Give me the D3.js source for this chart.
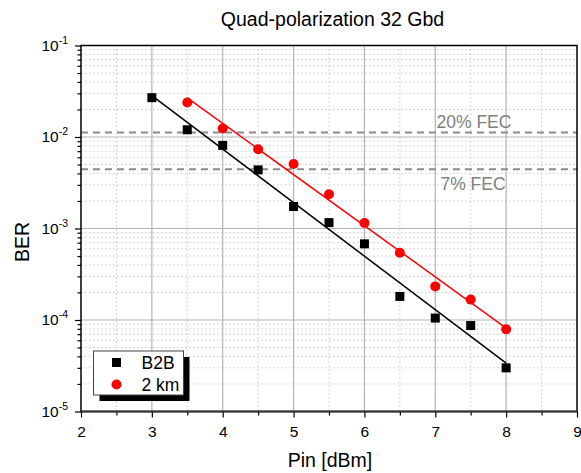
<!DOCTYPE html>
<html>
<head>
<meta charset="utf-8">
<script src="https://cdn.jsdelivr.net/npm/d3@7"></script>
<style>
  body { margin: 0; background: #fff; }
  svg { display: block; font-family: "Liberation Sans", Arial, sans-serif; }
</style>
</head>
<body>
<div id="chart"></div>
<script>
const width = 581;
const height = 473;

// data
const pinB2B = [3, 3.5, 4, 4.5, 5, 5.5, 6, 6.5, 7, 7.5, 8];
const berB2B = [2.69e-2, 1.20e-2, 8.1e-3, 4.37e-3, 1.74e-3, 1.16e-3, 6.8e-4, 1.81e-4, 1.05e-4, 8.7e-5, 3.0e-5];
const pin2km = [3.5, 4, 4.5, 5, 5.5, 6, 6.5, 7, 7.5, 8];
const ber2km = [2.38e-2, 1.24e-2, 7.36e-3, 5.08e-3, 2.37e-3, 1.15e-3, 5.43e-4, 2.33e-4, 1.67e-4, 7.9e-5];
const fecLevels = [1.12e-2, 4.45e-3];
const fecLabels = ["20% FEC", "7% FEC"];
const xTicks = [2, 3, 4, 5, 6, 7, 8, 9];
const yExponents = [-1, -2, -3, -4, -5];

const margin = { top: 45.5, right: 4, bottom: 61.5, left: 81 };
const x = d3.scaleLinear().domain([2, 9]).range([margin.left, width - margin.right]);
const y = d3.scaleLog().domain([1e-5, 1e-1]).range([height - margin.bottom, margin.top]);

const svg = d3.select("#chart").append("svg")
    .attr("width", width)
    .attr("height", height);

// minor grid
const xMinor = d3.range(2.5, 9, 1);
const yMinor = [];
yExponents.slice(1).forEach(e => {
    for (let k = 2; k <= 9; k++) yMinor.push(k * Math.pow(10, e));
});

svg.append("g").selectAll("line").data(xMinor).enter().append("line")
    .attr("x1", d => x(d)).attr("x2", d => x(d))
    .attr("y1", y(1e-1)).attr("y2", y(1e-5))
    .style("stroke", "#c8c8c8").style("stroke-dasharray", "1.5,2.5");

svg.append("g").selectAll("line").data(yMinor).enter().append("line")
    .attr("x1", x(2)).attr("x2", x(9))
    .attr("y1", d => y(d)).attr("y2", d => y(d))
    .style("stroke", "#c8c8c8").style("stroke-dasharray", "1.5,2.5");

// major grid
svg.append("g").selectAll("line").data(xTicks.slice(1, -1)).enter().append("line")
    .attr("x1", d => x(d)).attr("x2", d => x(d))
    .attr("y1", y(1e-1)).attr("y2", y(1e-5))
    .style("stroke", "#b4b4b4").style("stroke-width", 1.2);

svg.append("g").selectAll("line").data(yExponents.slice(1, -1)).enter().append("line")
    .attr("x1", x(2)).attr("x2", x(9))
    .attr("y1", d => y(Math.pow(10, d))).attr("y2", d => y(Math.pow(10, d)))
    .style("stroke", "#b4b4b4").style("stroke-width", 1.2);

// FEC thresholds
svg.append("g").selectAll("line").data(fecLevels).enter().append("line")
    .attr("x1", x(2)).attr("x2", x(9))
    .attr("y1", d => y(d)).attr("y2", d => y(d))
    .style("stroke", "#8c8c8c").style("stroke-width", 2)
    .style("stroke-dasharray", "7,5");

svg.append("text").attr("x", 474).attr("y", y(fecLevels[0]) - 4.5)
    .attr("text-anchor", "middle").style("font-size", "17.5px").style("fill", "#808080")
    .text(fecLabels[0]);
svg.append("text").attr("x", 473).attr("y", y(fecLevels[1]) + 21)
    .attr("text-anchor", "middle").style("font-size", "17.5px").style("fill", "#808080")
    .text(fecLabels[1]);

// axes
const xAxis = svg.append("g").attr("transform", `translate(0,${y(1e-5)})`);
xAxis.append("g").call(d3.axisBottom(x).tickValues(xTicks).tickSize(6).tickFormat(d3.format("d")))
    .call(g => g.select(".domain").remove())
    .call(g => g.selectAll("text").style("font-size", "15.5px").style("fill", "#000").attr("y", 14).attr("dy", "0.71em"))
    .call(g => g.selectAll("line").style("stroke", "#000").style("stroke-width", 1.2));
xAxis.append("g").call(d3.axisBottom(x).tickValues(xMinor).tickSize(4).tickFormat(""))
    .call(g => g.select(".domain").remove())
    .call(g => g.selectAll("line").style("stroke", "#000").style("stroke-width", 1.2));

const yAxis = svg.append("g").attr("transform", `translate(${x(2)},0)`);
yAxis.append("g").call(d3.axisLeft(y).tickValues(yExponents.map(e => Math.pow(10, e))).tickSize(6).tickFormat(""))
    .call(g => g.select(".domain").remove())
    .call(g => g.selectAll("line").style("stroke", "#000").style("stroke-width", 1.2));
yAxis.append("g").call(d3.axisLeft(y).tickValues(yMinor).tickSize(3.5).tickFormat(""))
    .call(g => g.select(".domain").remove())
    .call(g => g.selectAll("line").style("stroke", "#000").style("stroke-width", 1.2));

yExponents.forEach(e => {
    const t = svg.append("text")
        .attr("x", x(2) - 13)
        .attr("y", y(Math.pow(10, e)) + 5)
        .attr("text-anchor", "end")
        .style("font-size", "15.5px");
    t.append("tspan").text("10");
    t.append("tspan").attr("dy", -7).style("font-size", "10.5px").text(e);
});

// frame
svg.append("rect")
    .attr("x", x(2)).attr("y", y(1e-1))
    .attr("width", x(9) - x(2)).attr("height", y(1e-5) - y(1e-1))
    .style("fill", "none").style("stroke", "#000").style("stroke-width", 1.5);
svg.append("line")
    .attr("x1", x(2)).attr("x2", x(9)).attr("y1", y(1e-5)).attr("y2", y(1e-5))
    .style("stroke", "#333").style("stroke-width", 2);

// linear fits of log10(BER)
function fit(xs, ys) {
    const ly = ys.map(v => Math.log10(v));
    const mx = d3.mean(xs), my = d3.mean(ly);
    const sxy = d3.sum(xs, (v, i) => (v - mx) * (ly[i] - my));
    const sxx = d3.sum(xs, v => (v - mx) * (v - mx));
    const b = sxy / sxx;
    const a = my - b * mx;
    const x0 = d3.min(xs), x1 = d3.max(xs);
    return [[x0, Math.pow(10, a + b * x0)], [x1, Math.pow(10, a + b * x1)]];
}

const line = d3.line().x(d => x(d[0])).y(d => y(d[1]));

svg.append("path").datum(fit(pinB2B, berB2B))
    .attr("d", line).style("fill", "none").style("stroke", "#000").style("stroke-width", 1.5);
svg.append("path").datum(fit(pin2km, ber2km))
    .attr("d", line).style("fill", "none").style("stroke", "#ff0000").style("stroke-width", 1.5);

// markers
const sq = 9;
const rad = 5;
svg.append("g").selectAll("rect").data(pinB2B).enter().append("rect")
    .attr("x", (d, i) => x(d) - sq / 2)
    .attr("y", (d, i) => y(berB2B[i]) - sq / 2)
    .attr("width", sq).attr("height", sq)
    .style("fill", "#000");

svg.append("g").selectAll("circle").data(pin2km).enter().append("circle")
    .attr("cx", d => x(d))
    .attr("cy", (d, i) => y(ber2km[i]))
    .attr("r", rad)
    .style("fill", "#ff0000");

// legend
const legend = svg.append("g").attr("transform", "translate(93.5,351)");
legend.append("rect").attr("x", 6).attr("y", 6).attr("width", 90).attr("height", 44).style("fill", "#000");
legend.append("rect").attr("x", 0).attr("y", 0).attr("width", 90).attr("height", 44)
    .style("fill", "#fff").style("stroke", "#444").style("stroke-width", 1);
legend.append("rect").attr("x", 23 - sq / 2).attr("y", 11.5 - sq / 2).attr("width", sq).attr("height", sq).style("fill", "#000");
legend.append("circle").attr("cx", 23).attr("cy", 33.5).attr("r", rad).style("fill", "#ff0000");
legend.append("text").attr("x", 48).attr("y", 17.5).style("font-size", "17.5px").text("B2B");
legend.append("text").attr("x", 48).attr("y", 39.5).style("font-size", "17.5px").text("2 km");

// titles
svg.append("text").attr("x", 332.5).attr("y", 25.5).attr("text-anchor", "middle")
    .style("font-size", "19.5px").text("Quad-polarization 32 Gbd");
svg.append("text").attr("x", 330).attr("y", 467).attr("text-anchor", "middle")
    .style("font-size", "19.5px").text("Pin [dBm]");
svg.append("text").attr("transform", "translate(29,242) rotate(-90)").attr("text-anchor", "middle")
    .style("font-size", "19.5px").text("BER");
</script>
</body>
</html>
